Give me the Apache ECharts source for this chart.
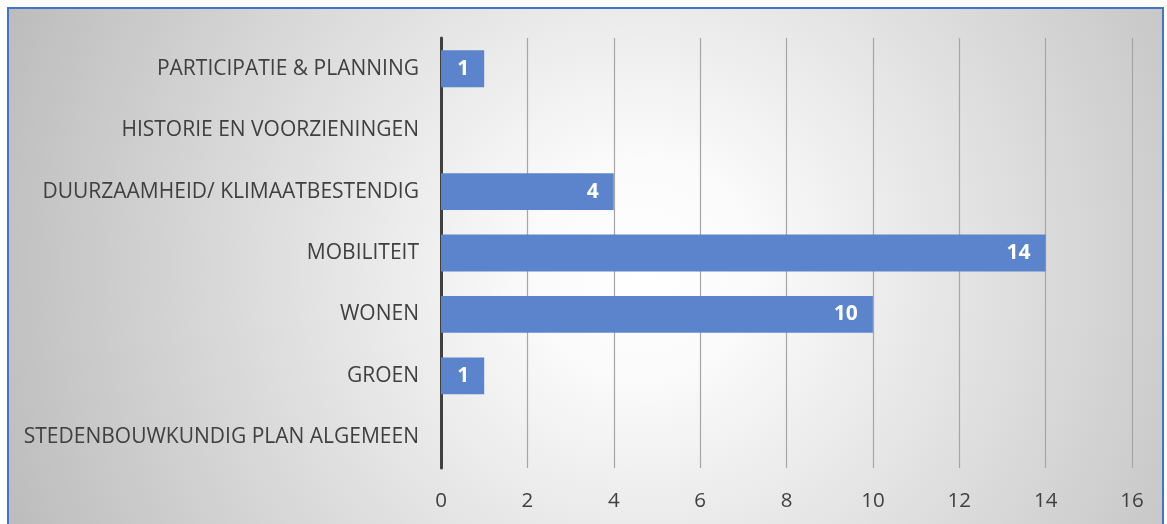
<!DOCTYPE html>
<html><head><meta charset="utf-8">
<script src="https://cdn.jsdelivr.net/npm/echarts@6/dist/echarts.min.js"></script>
<style>html,body{margin:0;padding:0;background:#fff}#c{width:1167px;height:524px}</style>
</head><body><div id="c"></div>
<script>
const categories = ['STEDENBOUWKUNDIG PLAN ALGEMEEN','GROEN','WONEN','MOBILITEIT','DUURZAAMHEID/ KLIMAATBESTENDIG','HISTORIE EN VOORZIENINGEN','PARTICIPATIE & PLANNING'];
const values = [0, 1, 10, 14, 4, 0, 1];
const xMin = 0, xMax = 16, xStep = 2;

const chart = echarts.init(document.getElementById('c'));
chart.setOption({
  animation: false,
  graphic: [
    {type:'rect', z:-10, silent:true, shape:{x:8,y:8,width:1155,height:520},
     style:{fill:{type:'radial', x:0.55, y:0.5, r:1.35, colorStops:[{offset:0,color:'#ffffff'},{offset:0.15,color:'#fbfbfb'},{offset:1,color:'#bababa'}]}, stroke:'#4472c4', lineWidth:2}}
  ],
  grid: {left:441, right:35, top:38, bottom:56, containLabel:false},
  xAxis: {
    type:'value', min:xMin, max:xMax, interval:xStep,
    axisLine:{show:false}, axisTick:{show:false},
    splitLine:{show:true, lineStyle:{color:'#a6a6a6', width:1.2}},
    axisLabel:{color:'#404040', fontFamily:'Open Sans', fontSize:20.5, margin:23}
  },
  yAxis: {
    type:'category', data:categories,
    axisLine:{show:true, lineStyle:{color:'#404040', width:3}},
    axisTick:{show:false},
    axisLabel:{color:'#404040', fontFamily:'Open Sans', fontSize:21, margin:22}
  },
  series: [{
    type:'bar', data:values, barCategoryGap:'40%',
    itemStyle:{color:'#5b84cc', borderWidth:0},
    label:{show:true, position:'insideRight', color:'#ffffff', fontWeight:'bold', fontFamily:'Open Sans', fontSize:21, offset:[-10,0],
      formatter: p => p.value > 0 ? p.value : ''}
  }]
});
</script></body></html>
